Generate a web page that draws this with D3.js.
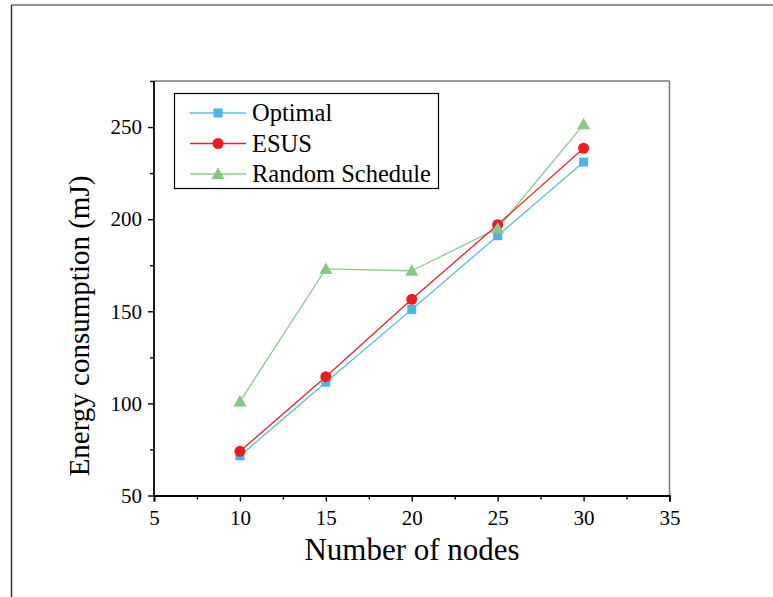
<!DOCTYPE html>
<html><head><meta charset="utf-8">
<script src="https://cdn.jsdelivr.net/npm/d3@7"></script>
<style>body{margin:0;background:#fff}svg{display:block}
svg text{font-family:"Liberation Serif","Times New Roman",Times,"DejaVu Serif",serif !important}</style>
</head><body>
<script>
const nodes = [10, 15, 20, 25, 30];
const optimal = [71.5, 111.5, 151, 191, 231];
const esus = [74, 114.5, 156.5, 197, 238.5];
const randomSchedule = [101, 173, 172, 195, 251.5];
const xTicks = [5, 10, 15, 20, 25, 30, 35];
const yTicks = [50, 100, 150, 200, 250];
const seriesNames = ["Optimal", "ESUS", "Random Schedule"];

const W = 773, H = 597;
const svg = d3.select("body").append("svg").attr("width", W).attr("height", H);
const font = "Liberation Serif";

// outer frame
svg.append("line").attr("x1", 11.5).attr("x2", W).attr("y1", 5).attr("y2", 5).attr("stroke", "#6e6e6e").attr("stroke-width", 1.5);
svg.append("line").attr("x1", 11.5).attr("x2", 11.5).attr("y1", 5).attr("y2", H).attr("stroke", "#333").attr("stroke-width", 1.5);

const L = 154, R = 669.5, T = 81, B = 495.5;
const x = d3.scaleLinear().domain([5, 35]).range([L, R]);
const y = d3.scaleLinear().domain([50, 275]).range([B, T]);

// top and right frame
svg.append("line").attr("x1", L).attr("x2", R).attr("y1", T).attr("y2", T).attr("stroke", "#777").attr("stroke-width", 1.5);
svg.append("line").attr("x1", R).attr("x2", R).attr("y1", T).attr("y2", B).attr("stroke", "#777").attr("stroke-width", 1.5);

// axes
const xAxis = svg.append("g").attr("transform", `translate(0,${B})`)
  .call(d3.axisBottom(x).tickValues(xTicks).tickSize(6).tickPadding(9).tickFormat(d3.format("d")));
const xMinor = svg.append("g").attr("transform", `translate(0,${B})`)
  .call(d3.axisBottom(x).tickValues(d3.range(7.5, 35, 5)).tickSize(4).tickFormat(""));
const yAxis = svg.append("g").attr("transform", `translate(${L},0)`)
  .call(d3.axisLeft(y).tickValues(yTicks).tickSize(6).tickPadding(6).tickFormat(d3.format("d")));
const yMinor = svg.append("g").attr("transform", `translate(${L},0)`)
  .call(d3.axisLeft(y).tickValues(d3.range(75, 276, 50)).tickSize(4).tickFormat(""));
[xAxis, xMinor, yAxis, yMinor].forEach(g => {
  g.select(".domain").attr("stroke", "#000").attr("stroke-width", 1.8);
  g.selectAll(".tick line").attr("stroke", "#000").attr("stroke-width", 1.4);
  g.selectAll("text").attr("font-family", font).attr("font-size", 21).attr("fill", "#000");
});
xMinor.select(".domain").remove(); yMinor.select(".domain").remove();
yAxis.select(".domain").attr("d", `M0,${B}V${T}`);

// axis titles
svg.append("text").attr("x", 412).attr("y", 560).attr("text-anchor", "middle")
  .attr("font-family", font).attr("font-size", 31).text("Number of nodes");
svg.append("text").attr("transform", `translate(89,326) rotate(-90)`).attr("text-anchor", "middle")
  .attr("font-family", font).attr("font-size", 29).text("Energy consumption (mJ)");

const series = [
  {name: seriesNames[0], vals: optimal, line: "#5bbce8", fill: "#4fb3e6", shape: "square"},
  {name: seriesNames[1], vals: esus, line: "#ed2028", fill: "#ed1c24", shape: "circle"},
  {name: seriesNames[2], vals: randomSchedule, line: "#8ccc8c", fill: "#86c886", shape: "triangle"}
];

function marker(g, shape, cx, cy, color) {
  if (shape === "square") g.append("rect").attr("x", cx - 4.5).attr("y", cy - 4.5).attr("width", 9).attr("height", 9).attr("fill", color);
  else if (shape === "circle") g.append("circle").attr("cx", cx).attr("cy", cy).attr("r", 5.5).attr("fill", color);
  else g.append("path").attr("d", `M${cx},${cy - 6.5}L${cx + 6.5},${cy + 5}L${cx - 6.5},${cy + 5}Z`).attr("fill", color);
}

const line = d3.line().x((d, i) => x(nodes[i])).y(d => y(d));
const order = [2, 0, 1];
order.forEach(k => {
  const s = series[k];
  svg.append("path").attr("d", line(s.vals)).attr("fill", "none").attr("stroke", s.line).attr("stroke-width", 1.3);
});
[0, 1, 2].forEach(k => {
  const s = series[k];
  const g = svg.append("g");
  s.vals.forEach((v, i) => marker(g, s.shape, x(nodes[i]), y(v), s.fill));
});

// legend
const lg = svg.append("g");
lg.append("rect").attr("x", 174.5).attr("y", 93.5).attr("width", 264).attr("height", 95)
  .attr("fill", "#fff").attr("stroke", "#000").attr("stroke-width", 1.2);
series.forEach((s, i) => {
  const cy = 113 + i * 30.5;
  lg.append("line").attr("x1", 190).attr("x2", 246).attr("y1", cy).attr("y2", cy).attr("stroke", s.line).attr("stroke-width", 1.3);
  marker(lg, s.shape, 218, cy, s.fill);
  lg.append("text").attr("x", 252).attr("y", cy + 8).attr("font-family", font).attr("font-size", 24.5).text(s.name);
});
</script>
</body></html>
